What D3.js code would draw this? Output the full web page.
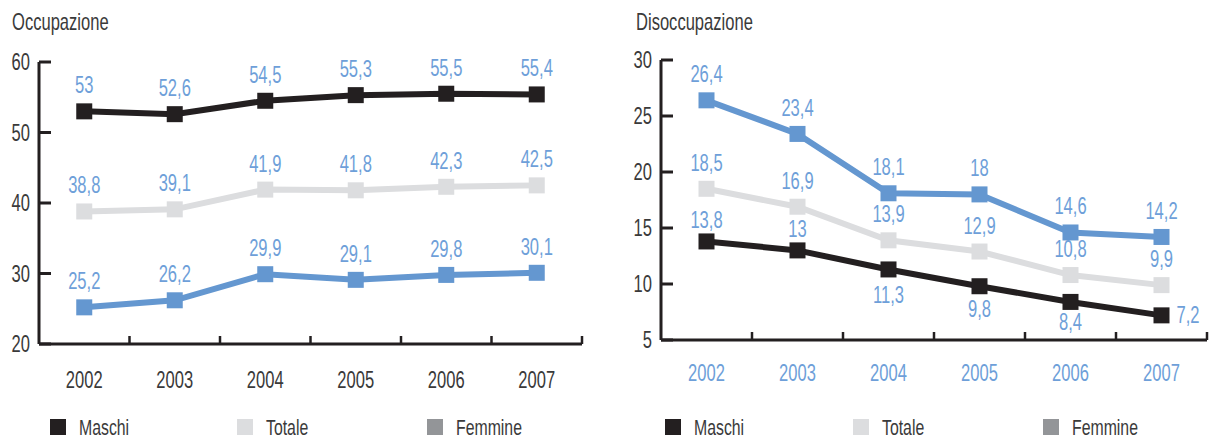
<!DOCTYPE html>
<html>
<head>
<meta charset="utf-8">
<script src="https://cdn.jsdelivr.net/npm/d3@7"></script>
<style>
  body { margin: 0; background: #fff; }
  text { font-family: "Liberation Sans", Arial, sans-serif; }
</style>
</head>
<body>
<div id="viz"></div>
<script>
const years = ["2002", "2003", "2004", "2005", "2006", "2007"];

// Occupazione
const occMaschi = [53, 52.6, 54.5, 55.3, 55.5, 55.4];
const occTotale = [38.8, 39.1, 41.9, 41.8, 42.3, 42.5];
const occFemmine = [25.2, 26.2, 29.9, 29.1, 29.8, 30.1];
const occTicks = [20, 30, 40, 50, 60];

// Disoccupazione
const disMaschi = [13.8, 13, 11.3, 9.8, 8.4, 7.2];
const disTotale = [18.5, 16.9, 13.9, 12.9, 10.8, 9.9];
const disFemmine = [26.4, 23.4, 18.1, 18, 14.6, 14.2];
const disTicks = [5, 10, 15, 20, 25, 30];

const legendNames = ["Maschi", "Totale", "Femmine"];
const legendColors = ["#231f20", "#dcdddf", "#939598"];

const black = "#231f20", grey = "#dcdddf", blue = "#6497d0", labelBlue = "#6e9fd9";
const ink = "#3a3a3a";

const svg = d3.select("#viz").append("svg")
    .attr("width", 1213)
    .attr("height", 439);

const fmt = v => String(v).replace(".", ",");

// condensed-looking text: squeeze horizontally
function label(g, x, y, str, size, color, anchor) {
    return g.append("text")
        .attr("transform", `translate(${x},${y}) scale(0.72,1)`)
        .attr("text-anchor", anchor || "start")
        .attr("font-size", size)
        .attr("fill", color)
        .text(str);
}

function panel(opt) {
    const g = svg.append("g");

    const x = d3.scaleBand().domain(years).range([opt.x0, opt.x1]);
    const y = d3.scaleLinear().domain(opt.domain).range([opt.y1, opt.y0]);
    const cx = i => x(years[i]) + x.bandwidth() / 2;

    label(g, opt.titleX, 30, opt.title, 23, ink);

    // y axis
    g.append("line")
        .attr("x1", opt.x0).attr("x2", opt.x0)
        .attr("y1", y(opt.domain[1])).attr("y2", opt.y1)
        .attr("stroke", black).attr("stroke-width", 3);
    opt.ticks.forEach(t => {
        g.append("line")
            .attr("x1", opt.x0).attr("x2", opt.x0 + 12)
            .attr("y1", y(t)).attr("y2", y(t))
            .attr("stroke", black).attr("stroke-width", 3);
        label(g, opt.x0 - 9, y(t) + 8, t, 23, ink, "end");
    });

    // x axis
    g.append("line")
        .attr("x1", opt.x0).attr("x2", opt.x1)
        .attr("y1", opt.y1).attr("y2", opt.y1)
        .attr("stroke", black).attr("stroke-width", 3);
    years.forEach((yr, i) => {
        const bx = x(yr) + x.bandwidth();
        g.append("line")
            .attr("x1", bx).attr("x2", bx)
            .attr("y1", opt.y1).attr("y2", opt.y1 - 8)
            .attr("stroke", black).attr("stroke-width", 2.5);
        label(g, cx(i), opt.y1 + opt.xLabOff, yr, 23, opt.xLabColor, "middle");
    });

    const line = d3.line()
        .x((d, i) => cx(i))
        .y(d => y(d));

    opt.series.forEach(s => {
        g.append("path").datum(s.values)
            .attr("d", line)
            .attr("fill", "none").attr("stroke", s.color).attr("stroke-width", 6);
        g.selectAll(null).data(s.values).enter().append("rect")
            .attr("x", (d, i) => cx(i) - 8)
            .attr("y", d => y(d) - 8)
            .attr("width", 16).attr("height", 16)
            .attr("fill", s.color);
        s.values.forEach((v, i) => {
            const p = s.pos[i];
            label(g, cx(i) + p[0], y(v) + p[1], fmt(v), 23, labelBlue, p[0] > 0 ? "start" : "middle");
        });
    });

    // legend
    legendNames.forEach((n, i) => {
        g.append("rect")
            .attr("x", opt.legendX[i]).attr("y", 419)
            .attr("width", 16).attr("height", 16)
            .attr("fill", legendColors[i]);
        label(g, opt.legendX[i] + 29, 435, n, 22, ink);
    });
}

const above = d3.range(6).map(() => [0, -18]);

panel({
    title: "Occupazione", titleX: 12,
    x0: 39, x1: 582, y0: 62, y1: 344,
    domain: [20, 60], ticks: occTicks,
    xLabOff: 44, xLabColor: ink,
    legendX: [50, 237, 427],
    series: [
        { values: occMaschi, color: black, pos: above },
        { values: occTotale, color: grey, pos: above },
        { values: occFemmine, color: blue, pos: above }
    ]
});

panel({
    title: "Disoccupazione", titleX: 636,
    x0: 661, x1: 1207, y0: 60, y1: 340,
    domain: [5, 30], ticks: disTicks,
    xLabOff: 41, xLabColor: labelBlue,
    legendX: [665, 853, 1043],
    series: [
        { values: disMaschi, color: black, pos: [[0, -13], [0, -13], [0, 34], [0, 31], [0, 28], [15, 8]] },
        { values: disTotale, color: grey, pos: above },
        { values: disFemmine, color: blue, pos: above }
    ]
});
</script>
</body>
</html>
